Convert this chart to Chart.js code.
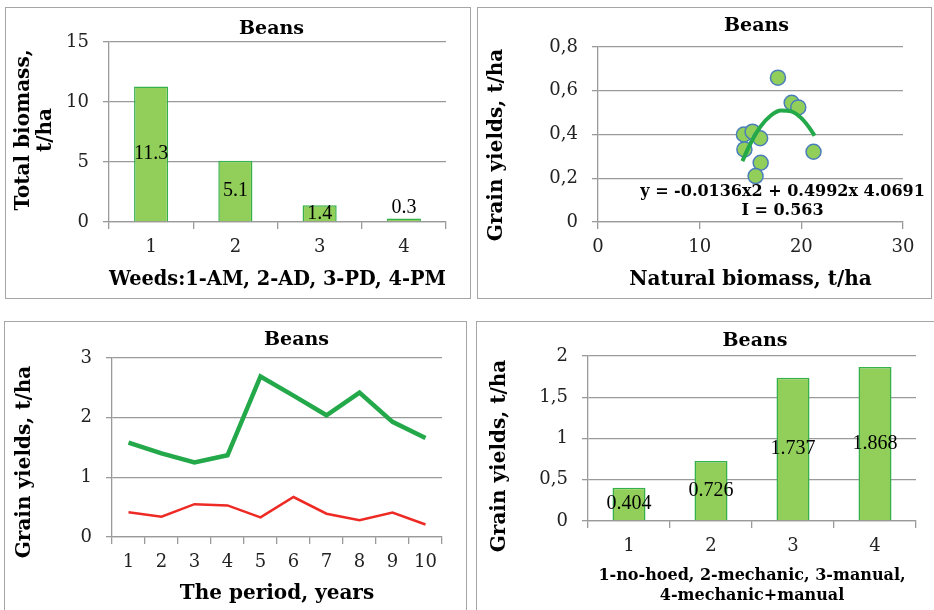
<!DOCTYPE html>
<html>
<head>
<meta charset="utf-8">
<script src="https://cdn.jsdelivr.net/npm/chart.js@4.4.0/dist/chart.umd.min.js"></script>
<style>
  body { margin: 0; background: #fff; width: 934px; height: 610px; overflow: hidden; position: relative; }
  .box { position: absolute; border: 1.5px solid #a6a6a6; box-sizing: border-box; }
  canvas { position: absolute; }
</style>
</head>
<body>
<div class="box" style="left:5px;top:7px;width:466px;height:292px"></div>
<div class="box" style="left:477px;top:7px;width:455px;height:292px"></div>
<div class="box" style="left:4px;top:321px;width:463px;height:300px"></div>
<div class="box" style="left:476px;top:321px;width:470px;height:300px"></div>

<canvas id="c1" width="464" height="290" style="left:6px;top:8px"></canvas>
<canvas id="c2" width="452" height="290" style="left:478px;top:8px"></canvas>
<canvas id="c3" width="461" height="290" style="left:5px;top:322px"></canvas>
<canvas id="c4" width="457" height="290" style="left:477px;top:322px"></canvas>

<script>
// ===== Dados =====
// 1: biomassa por tipo de erva
const weedCats = ["1", "2", "3", "4"];
const weedBiomass = [11.3, 5.1, 1.4, 0.3];
const weedTicks = [0, 5, 10, 15];

// 2: rendimento x biomassa natural
const scatterX = [17.7, 19.05, 19.7, 14.35, 15.2, 15.95, 14.4, 16.0, 15.5, 21.2];
const scatterY = [0.66, 0.545, 0.524, 0.40, 0.413, 0.383, 0.332, 0.271, 0.21, 0.321];
const trendX = [14.2, 15, 16, 17, 18, 19, 20, 21, 21.3];
const trendY = [0.278, 0.359, 0.437, 0.487, 0.510, 0.506, 0.475, 0.417, 0.394];
const scatterXTicks = [0, 10, 20, 30];
const scatterYTicks = [0, 0.2, 0.4, 0.6, 0.8];
const trendText = ["y = -0.0136x2 + 0.4992x 4.0691", "I = 0.563"];

// 3: rendimento por ano
const years = ["1", "2", "3", "4", "5", "6", "7", "8", "9", "10"];
const yieldGreen = [1.58, 1.40, 1.25, 1.37, 2.69, 2.37, 2.04, 2.42, 1.93, 1.66];
const yieldRed = [0.415, 0.34, 0.55, 0.53, 0.33, 0.67, 0.39, 0.28, 0.41, 0.21];
const yearTicks = [0, 1, 2, 3];

// 4: rendimento por tipo de capina
const hoeCats = ["1", "2", "3", "4"];
const hoeYield = [0.404, 0.726, 1.737, 1.868];
const hoeTicks = [0, 0.5, 1, 1.5, 2];

// ===== Estilo comum =====
const SERIF = "'DejaVu Serif', serif";
const GRID = "#9a9a9a";
const BAR_FILL = "#92cf5a";
const BAR_EDGE = "#35b04a";
const LINE_GREEN = "#23a84a";
const LINE_RED = "#ee2a24";
const TICK_FONT = { family: SERIF, size: 18 };
const TITLE_FONT = "bold 19px " + SERIF;
const AXIS_FONT = "bold 20px " + SERIF;

Chart.defaults.animation = false;
Chart.defaults.color = "#222";
Chart.defaults.plugins.legend.display = false;
Chart.defaults.plugins.tooltip.enabled = false;

const comma = v => String(Math.round(v * 100) / 100).replace(".", ",");

function yAxis(ticks, width, fmt) {
  return {
    min: ticks[0],
    max: ticks[ticks.length - 1],
    afterBuildTicks: s => { s.ticks = ticks.map(v => ({ value: v })); },
    afterFit: s => { s.width = width; },
    ticks: { font: TICK_FONT, padding: 14, callback: fmt || (v => v) },
    grid: { color: GRID, lineWidth: 1.3, tickLength: 6 },
    border: { color: GRID, width: 1.3 }
  };
}

function xTitle(text, size, lh, pb) {
  return {
    display: true, text,
    font: { family: SERIF, size, weight: "bold", lineHeight: lh },
    padding: { top: 0, bottom: pb }, color: "#000"
  };
}

// titulo do gráfico e do eixo y em posição livre (como no Excel)
function textPlugin(items) {
  return {
    id: "textItems",
    afterDraw(chart) {
      const ctx = chart.ctx;
      items.forEach(it => {
        ctx.save();
        ctx.font = it.font;
        ctx.fillStyle = "#000";
        ctx.textAlign = "center";
        ctx.textBaseline = "middle";
        ctx.translate(it.x, it.y);
        if (it.rotate) ctx.rotate(-Math.PI / 2);
        ctx.fillText(it.text, 0, 0);
        ctx.restore();
      });
    }
  };
}

// rótulos de valor no meio da barra (acima se a barra é baixa)
const barLabels = {
  id: "barLabels",
  afterDatasetsDraw(chart) {
    const ctx = chart.ctx;
    const meta = chart.getDatasetMeta(0);
    const data = chart.data.datasets[0].data;
    ctx.save();
    ctx.font = "20px 'Liberation Serif', serif";
    ctx.fillStyle = "#000";
    ctx.textAlign = "center";
    ctx.textBaseline = "middle";
    meta.data.forEach((bar, i) => {
      const h = bar.base - bar.y;
      const y = h < 14 ? bar.y - 11 : (bar.y + bar.base) / 2;
      ctx.fillText(String(data[i]), bar.x, y);
    });
    ctx.restore();
  }
};

// ===== Gráfico 1 =====
new Chart(document.getElementById("c1"), {
  type: "bar",
  data: {
    labels: weedCats,
    datasets: [{
      data: weedBiomass, backgroundColor: BAR_FILL, borderColor: BAR_EDGE, borderWidth: 1.5,
      categoryPercentage: 1, barPercentage: 0.405
    }]
  },
  options: {
    responsive: false,
    layout: { padding: { left: 0, right: 24, top: 34, bottom: 0 } },
    scales: {
      x: {
        afterFit: s => { s.height = 76; },
        ticks: { font: TICK_FONT, padding: 8 },
        grid: { offset: true, drawOnChartArea: false, color: GRID, lineWidth: 1.3, tickLength: 7 },
        border: { color: GRID, width: 1.3 },
        title: xTitle("Weeds:1-AM, 2-AD, 3-PD, 4-PM", 20, 1.2, 6)
      },
      y: yAxis(weedTicks, 103)
    }
  },
  plugins: [barLabels, textPlugin([
    { text: "Beans", font: TITLE_FONT, x: 265.5, y: 21 },
    { text: "Total biomass,", font: AXIS_FONT, x: 18, y: 122, rotate: true },
    { text: "t/ha", font: AXIS_FONT, x: 40, y: 122, rotate: true }
  ])]
});

// ===== Gráfico 2 =====
const trendLabel = {
  id: "trendLabel",
  afterDatasetsDraw(chart) {
    const ctx = chart.ctx;
    const x = chart.scales.x.getPixelForValue(18.15);
    ctx.save();
    ctx.font = "bold 16px " + SERIF;
    ctx.fillStyle = "#000";
    ctx.textAlign = "center";
    ctx.textBaseline = "middle";
    ctx.fillText(trendText[0], x, chart.scales.y.getPixelForValue(0.137));
    ctx.fillText(trendText[1], x, chart.scales.y.getPixelForValue(0.05));
    ctx.restore();
  }
};

new Chart(document.getElementById("c2"), {
  type: "scatter",
  data: {
    datasets: [
      {
        type: "line", order: 0,
        data: trendX.map((x, i) => ({ x, y: trendY[i] })),
        borderColor: LINE_GREEN, borderWidth: 4, pointRadius: 0, tension: 0.4,
        cubicInterpolationMode: "monotone", fill: false
      },
      {
        order: 1,
        data: scatterX.map((x, i) => ({ x, y: scatterY[i] })),
        backgroundColor: BAR_FILL, borderColor: "#4a7ebb", borderWidth: 1.5, pointRadius: 7.5
      }
    ]
  },
  options: {
    responsive: false,
    layout: { padding: { left: 0, right: 27, top: 39, bottom: 0 } },
    scales: {
      x: {
        type: "linear",
        min: scatterXTicks[0], max: scatterXTicks[scatterXTicks.length - 1],
        afterBuildTicks: s => { s.ticks = scatterXTicks.map(v => ({ value: v })); },
        afterFit: s => { s.height = 76; },
        ticks: { font: TICK_FONT, padding: 8 },
        grid: { drawOnChartArea: false, color: GRID, lineWidth: 1.3, tickLength: 7 },
        border: { color: GRID, width: 1.3 },
        title: xTitle("Natural biomass, t/ha", 20, 1.2, 6)
      },
      y: yAxis(scatterYTicks, 120, comma)
    }
  },
  plugins: [trendLabel, textPlugin([
    { text: "Beans", font: TITLE_FONT, x: 278.5, y: 18 },
    { text: "Grain yields, t/ha", font: AXIS_FONT, x: 19, y: 137, rotate: true }
  ])]
});

// ===== Gráfico 3 =====
new Chart(document.getElementById("c3"), {
  type: "line",
  data: {
    labels: years,
    datasets: [
      { data: yieldGreen, borderColor: LINE_GREEN, borderWidth: 4.5, pointRadius: 0, tension: 0 },
      { data: yieldRed, borderColor: LINE_RED, borderWidth: 2.5, pointRadius: 0, tension: 0 }
    ]
  },
  options: {
    responsive: false,
    layout: { padding: { left: 0, right: 24, top: 36, bottom: 0 } },
    scales: {
      x: {
        offset: true,
        afterFit: s => { s.height = 75; },
        ticks: { font: TICK_FONT, padding: 7.5 },
        grid: { offset: true, drawOnChartArea: false, color: GRID, lineWidth: 1.3, tickLength: 7 },
        border: { color: GRID, width: 1.3 },
        title: xTitle("The period, years", 20, 1.2, 6)
      },
      y: yAxis(yearTicks, 107)
    }
  },
  plugins: [textPlugin([
    { text: "Beans", font: TITLE_FONT, x: 291.5, y: 18 },
    { text: "Grain yields, t/ha", font: AXIS_FONT, x: 20, y: 140, rotate: true }
  ])]
});

// ===== Gráfico 4 =====
new Chart(document.getElementById("c4"), {
  type: "bar",
  data: {
    labels: hoeCats,
    datasets: [{
      data: hoeYield, backgroundColor: BAR_FILL, borderColor: BAR_EDGE, borderWidth: 1.5,
      categoryPercentage: 1, barPercentage: 0.403
    }]
  },
  options: {
    responsive: false,
    layout: { padding: { left: 0, right: 18, top: 34, bottom: 0 } },
    scales: {
      x: {
        afterFit: s => { s.height = 91; },
        ticks: { font: TICK_FONT, padding: 8 },
        grid: { offset: true, drawOnChartArea: false, color: GRID, lineWidth: 1.3, tickLength: 7 },
        border: { color: GRID, width: 1.3 },
        title: xTitle(["1-no-hoed, 2-mechanic, 3-manual,", "4-mechanic+manual"], 16, 1.27, 5.8)
      },
      y: yAxis(hoeTicks, 111, comma)
    }
  },
  plugins: [barLabels, textPlugin([
    { text: "Beans", font: TITLE_FONT, x: 278, y: 19.5 },
    { text: "Grain yields, t/ha", font: AXIS_FONT, x: 23, y: 134, rotate: true }
  ])]
});
</script>
</body>
</html>
